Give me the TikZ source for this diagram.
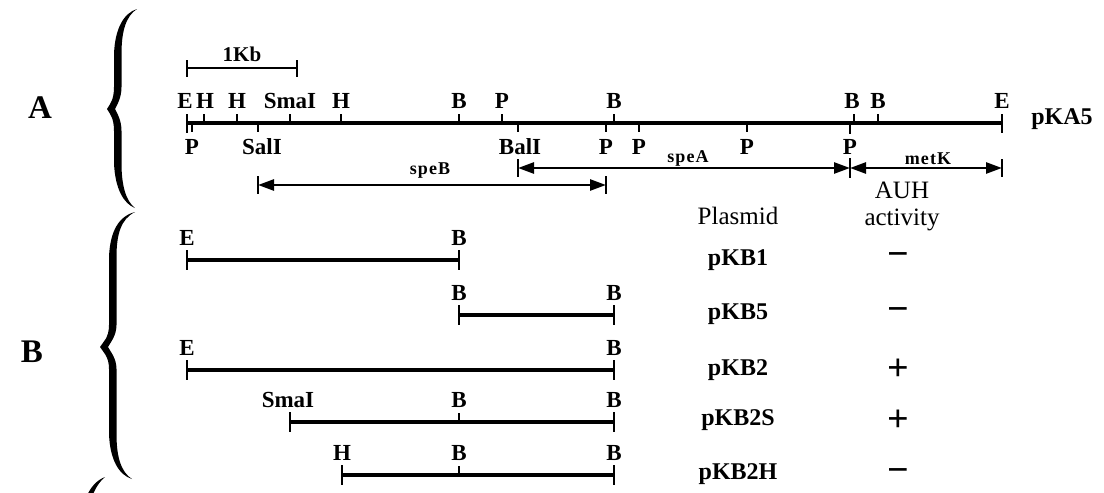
\documentclass[tikz,border=0pt]{standalone}
\usepackage{fontspec}
\setmainfont{Liberation Serif}
\usetikzlibrary{arrows.meta}
\tikzset{
 every node/.style={inner sep=0pt, text=black},
 site/.style={font=\bfseries\fontsize{23}{23}\selectfont},
 gene/.style={font=\bfseries\fontsize{18}{18}\selectfont\addfontfeature{LetterSpace=6}},
 plas/.style={font=\bfseries\fontsize{24}{24}\selectfont},
 head/.style={font=\fontsize{25}{25}\selectfont},
 sect/.style={font=\bfseries\fontsize{33}{33}\selectfont},
 sign/.style={font=\bfseries\fontsize{38}{38}\selectfont},
 dna/.style={line width=3.4pt},
 tick/.style={line width=2.8pt},
 gen/.style={line width=2.6pt, {Triangle[length=16pt,width=11pt]}-{Triangle[length=16pt,width=11pt]}},
}
% #1 top end x, #2 top y, #3 tip x, #4 tip y, #5 bottom end x, #6 bottom y, #7 straight x
\newcommand\mybrace[7]{%
 \fill ({#1},{#2}) .. controls ({#7+6},{#2+4}) and ({#7-3},{#2+19}) .. ({#7-4},{#2+45})
   -- ({#7-4},{#4-22}) .. controls ({#7-4},{#4-9}) and ({#3+3},{#4-5}) .. ({#3},{#4})
   .. controls ({#3+3},{#4+5}) and ({#7-4},{#4+9}) .. ({#7-4},{#4+22})
   -- ({#7-4},{#6-45}) .. controls ({#7-3},{#6-19}) and ({#7+6},{#6-4}) .. ({#5},{#6})
   .. controls ({#7+8},{#6-7}) and ({#7+3.5},{#6-22}) .. ({#7+3.5},{#6-45})
   -- ({#7+3.5},{#4+22}) .. controls ({#7+3.5},{#4+11}) and ({#3+10},{#4+4}) .. ({#3+8},{#4})
   .. controls ({#3+10},{#4-4}) and ({#7+3.5},{#4-11}) .. ({#7+3.5},{#4-22})
   -- ({#7+3.5},{#2+45}) .. controls ({#7+3.5},{#2+22}) and ({#7+8},{#2+7}) .. cycle;}
\begin{document}
\begin{tikzpicture}[x=1pt,y=-1pt]
\useasboundingbox (0,0) rectangle (1104,493);
% section letters and braces
\node[sect] (secA) at (40,108) {A};
\node[sect] (secB) at (32,352) {B};
\mybrace{137}{9}{107}{109}{135}{208}{118}
\mybrace{135}{212}{100}{347}{132}{479}{113}
\begin{scope}
\clip (0,0) rectangle (1104,493);
\fill (105,477) .. controls (97,480) and (90,487) .. (85,500) -- (91,500) .. controls (94,490) and (99,482) .. (105,477) -- cycle;
\end{scope}
% scale bar
\node[font=\bfseries\fontsize{21}{21}\selectfont] (kb) at (242,54) {1Kb};
\draw[tick] (187,68) coordinate (kbL) -- (297,68) coordinate (kbR);
\draw[tick] (187,60) -- (187,77);
\draw[tick] (297,60) -- (297,77);
% main map pKA5
\draw[dna] (187,123) coordinate (mL) -- (1002,123) coordinate (mR);
\draw[tick] (187,114) -- (187,133);
\draw[tick] (1002,114) -- (1002,133);
\foreach \x in {204,237,290,341,459,502,614,854,878}
  \draw[tick] (\x,114) -- (\x,123);
\foreach \x in {192,258,518,606,639,747}
  \draw[tick] (\x,123) -- (\x,132);
\draw[tick] (850,123) -- (850,134);
\foreach \x/\t/\n in {185/E/tE1,205/H/tH1,237/H/tH2,290/SmaI/tSma,341/H/tH3,459/B/tB1,502/P/tP1,614/B/tB2,852/B/tB3,878/B/tB4,1002/E/tE2}
  \node[site] (\n) at (\x,101) {\t};
\foreach \x/\t/\n in {192/P/bP1,262/SalI/bSal,520/BalI/bBal,606/P/bP2,639/P/bP3,747/P/bP4,850/P/bP5}
  \node[site] (\n) at (\x,147) {\t};
\node[plas] (pKA5) at (1062,119) {pKA5};
% genes
\draw[gen] (258,185) coordinate (sBl) -- (606,185) coordinate (sBr);
\draw[tick] (258,176) -- (258,194);
\draw[tick] (606,176) -- (606,194);
\draw[gen] (518,168) coordinate (sAl) -- (850,168) coordinate (sAr);
\draw[gen] (850,168) -- (1002,168) coordinate (mKr);
\draw[tick] (518,159) -- (518,177);
\draw[tick] (850,158) -- (850,178);
\draw[tick] (1002,159) -- (1002,177);
\node[gene] (speB) at (430,171) {speB};
\node[gene] (speA) at (688,158) {speA};
\node[gene] (metK) at (928,159) {metK};
% headers
\node[head] (plasmid) at (738,216) {Plasmid};
\node[head,font=\fontsize{25}{25}\selectfont] (auh) at (902,190) {AUH};
\node[head] (act) at (902,220) {activity};
% row 1 pKB1
\draw[dna] (187,260) -- (459,260);
\draw[tick] (187,250) -- (187,270);
\draw[tick] (459,250) -- (459,270);
\node[site] (r1a) at (187,238) {E};
\node[site] (r1b) at (459,238) {B};
\node[plas] (pKB1) at (738,260) {pKB1};
\node[sign] (s1) at (898,260) {−};
% row 2 pKB5
\draw[dna] (459,315) -- (614,315);
\draw[tick] (459,305) -- (459,325);
\draw[tick] (614,305) -- (614,325);
\node[site] (r2a) at (459,293) {B};
\node[site] (r2b) at (614,293) {B};
\node[plas] (pKB5) at (738,314) {pKB5};
\node[sign] (s2) at (898,315) {−};
% row 3 pKB2
\draw[dna] (187,370) -- (614,370);
\draw[tick] (187,360) -- (187,380);
\draw[tick] (614,360) -- (614,380);
\node[site] (r3a) at (187,348) {E};
\node[site] (r3b) at (614,348) {B};
\node[plas] (pKB2) at (738,370) {pKB2};
\node[sign] (s3) at (898,370) {+};
% row 4 pKB2S
\draw[dna] (290,422) -- (614,422);
\draw[tick] (290,412) -- (290,432);
\draw[tick] (614,412) -- (614,432);
\draw[tick] (459,413) -- (459,422);
\node[site] (r4a) at (288,400) {SmaI};
\node[site] (r4b) at (459,400) {B};
\node[site] (r4c) at (614,400) {B};
\node[plas] (pKB2S) at (738,420) {pKB2S};
\node[sign] (s4) at (898,421) {+};
% row 5 pKB2H
\draw[dna] (342,475) -- (614,475);
\draw[tick] (342,465) -- (342,485);
\draw[tick] (614,465) -- (614,485);
\draw[tick] (459,466) -- (459,475);
\node[site] (r5a) at (342,453) {H};
\node[site] (r5b) at (459,453) {B};
\node[site] (r5c) at (614,453) {B};
\node[plas] (pKB2H) at (738,474) {pKB2H};
\node[sign] (s5) at (898,476) {−};
\end{tikzpicture}
\end{document}
